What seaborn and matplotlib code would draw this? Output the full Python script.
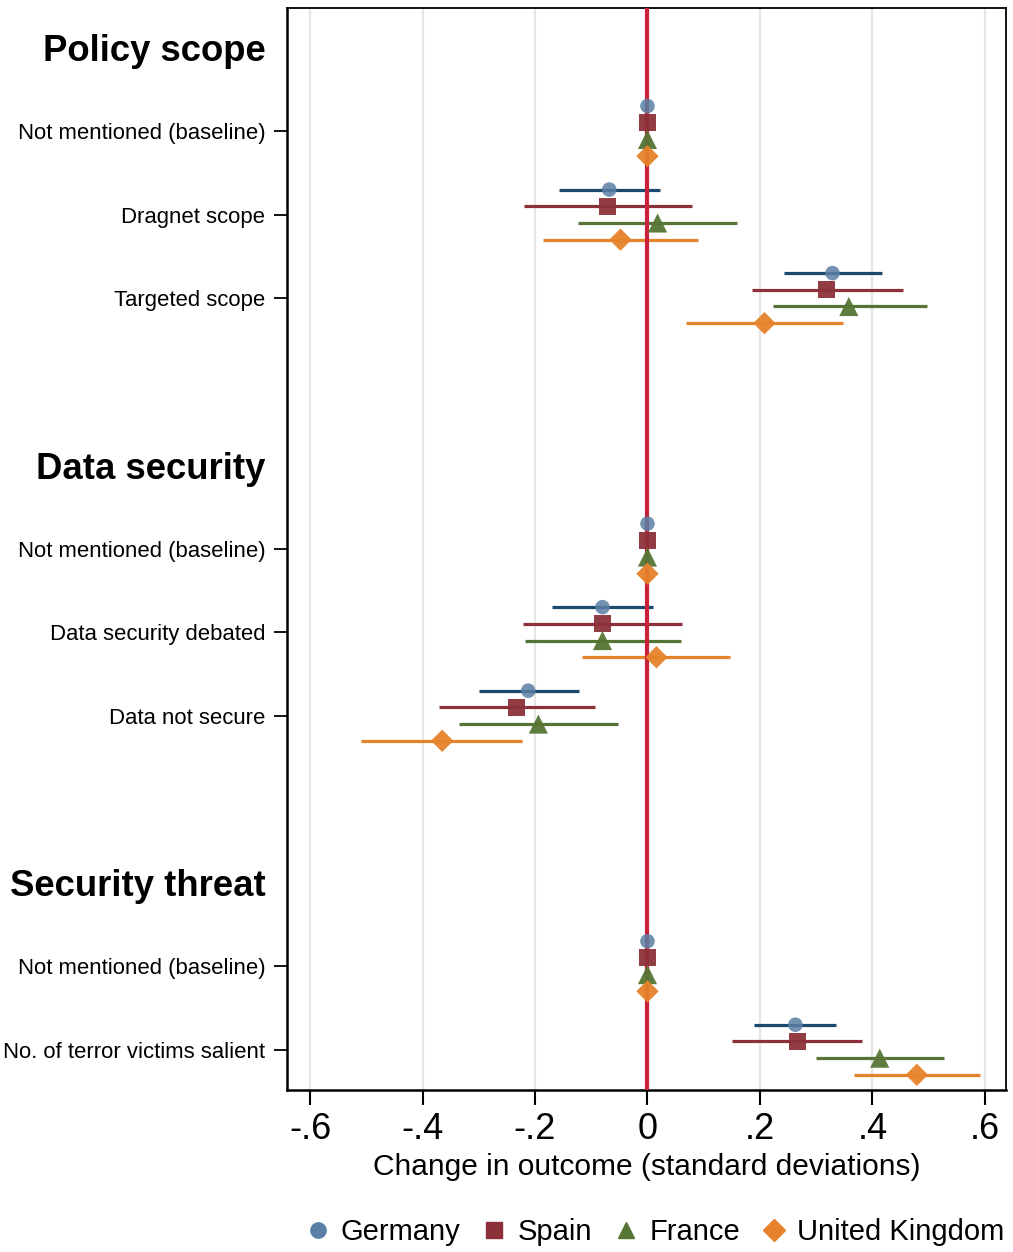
import numpy as np
import pandas as pd
import matplotlib
matplotlib.use("Agg")
import matplotlib.pyplot as plt
from matplotlib.lines import Line2D
import seaborn as sns

sections = ["Policy scope", "Data security", "Security threat"]
levels = [
    ["Not mentioned (baseline)", "Dragnet scope", "Targeted scope"],
    ["Not mentioned (baseline)", "Data security debated", "Data not secure"],
    ["Not mentioned (baseline)", "No. of terror victims salient"],
]
countries = ["Germany", "Spain", "France", "United Kingdom"]

# point estimates and 95% CIs, one entry per level row (top to bottom)
nan = np.nan
germany_est = [0, -0.068, 0.329, 0, -0.080, -0.212, 0, 0.263]
germany_lo = [nan, -0.158, 0.242, nan, -0.169, -0.299, nan, 0.190]
germany_hi = [nan, 0.023, 0.417, nan, 0.009, -0.121, nan, 0.336]
spain_est = [0, -0.071, 0.319, 0, -0.080, -0.233, 0, 0.266]
spain_lo = [nan, -0.219, 0.185, nan, -0.221, -0.370, nan, 0.151]
spain_hi = [nan, 0.080, 0.454, nan, 0.062, -0.093, nan, 0.381]
france_est = [0, 0.018, 0.358, 0, -0.080, -0.194, 0, 0.413]
france_lo = [nan, -0.123, 0.223, nan, -0.217, -0.336, nan, 0.299]
france_hi = [nan, 0.160, 0.497, nan, 0.059, -0.052, nan, 0.527]
uk_est = [0, -0.048, 0.208, 0, 0.016, -0.365, 0, 0.479]
uk_lo = [nan, -0.185, 0.069, nan, -0.116, -0.509, nan, 0.367]
uk_hi = [nan, 0.089, 0.347, nan, 0.146, -0.223, nan, 0.591]

xticks = [-0.6, -0.4, -0.2, 0, 0.2, 0.4, 0.6]
xtick_labels = ["-.6", "-.4", "-.2", "0", ".2", ".4", ".6"]

marker_colors = {"Germany": "#5a7fa4", "Spain": "#8c3139",
                 "France": "#567534", "United Kingdom": "#e5822a"}
line_colors = {"Germany": "#1a4a70", "Spain": "#8c3139",
               "France": "#567534", "United Kingdom": "#e5822a"}
markers = {"Germany": "o", "Spain": "s", "France": "^", "United Kingdom": "D"}
sizes = {"Germany": 110, "Spain": 150, "France": 190, "United Kingdom": 130}
offsets = {"Germany": -0.3, "Spain": -0.1, "France": 0.1, "United Kingdom": 0.3}

sns.set_style("white")
plt.rcParams["font.family"] = ["Liberation Sans", "DejaVu Sans"]
plt.rcParams["text.color"] = "black"
plt.rcParams["axes.labelcolor"] = "black"
plt.rcParams["xtick.color"] = "black"
plt.rcParams["ytick.color"] = "black"

# row layout: header, its levels, then a blank spacer row
ytick_pos, ytick_lab, header_pos, level_pos = [], [], [], []
i = 0
for sec, levs in zip(sections, levels):
    ytick_pos.append(i); ytick_lab.append(sec); header_pos.append(i)
    i += 1
    for lev in levs:
        ytick_pos.append(i); ytick_lab.append(lev); level_pos.append(i)
        i += 1
    i += 1

est = {"Germany": germany_est, "Spain": spain_est, "France": france_est, "United Kingdom": uk_est}
lo = {"Germany": germany_lo, "Spain": spain_lo, "France": france_lo, "United Kingdom": uk_lo}
hi = {"Germany": germany_hi, "Spain": spain_hi, "France": france_hi, "United Kingdom": uk_hi}

rows = []
for c in countries:
    for k, y in enumerate(level_pos):
        rows.append({"country": c, "y": y + offsets[c], "est": est[c][k],
                     "lo": lo[c][k], "hi": hi[c][k]})
df = pd.DataFrame(rows)

fig = plt.figure(figsize=(10.13, 12.52), dpi=100)
ax = fig.add_axes([0.2833, 0.1295, 0.7095, 0.8645])

for x in xticks:
    ax.axvline(x, color="#e6e6e6", lw=1.6, zorder=0)

for c in countries:
    d = df[(df.country == c) & df.lo.notna()]
    ax.hlines(d.y, d.lo, d.hi, color=line_colors[c], lw=2.3, zorder=2)

ax.axvline(0, color="#c8213a", lw=3, zorder=3)

for c in countries:
    d = df[df.country == c]
    sns.scatterplot(data=d, x="est", y="y", marker=markers[c], s=sizes[c],
                    color=marker_colors[c], edgecolor="none", linewidth=0,
                    alpha=0.95 if c != "Germany" else 0.85, zorder=4, ax=ax, legend=False)

ax.set_xlim(-0.641, 0.637)
ax.set_ylim(12.48, -0.48)
ax.set_xticks(xticks)
ax.set_xticklabels(xtick_labels, fontsize=26)
ax.set_yticks(ytick_pos)
ax.set_yticklabels(ytick_lab, fontsize=15.9)
ax.set_xlabel("Change in outcome (standard deviations)", fontsize=21.5, labelpad=4)
ax.set_ylabel("")
ax.tick_params(axis="y", length=9.5, width=1.3, pad=6, left=True, color="black")
ax.tick_params(axis="x", length=11, width=1.5, pad=5, bottom=True, color="black")

for tick, lab, pos in zip(ax.yaxis.get_major_ticks(), ax.get_yticklabels(), ytick_pos):
    if pos in header_pos:
        tick.tick1line.set_visible(False)
        lab.set_fontsize(26.3)
        lab.set_fontweight("bold")

for side in ["left", "bottom"]:
    ax.spines[side].set_linewidth(1.8)
for side in ["top", "right"]:
    ax.spines[side].set_linewidth(1.3)
for s in ax.spines.values():
    s.set_color("black")

handles = [Line2D([], [], linestyle="none", marker=markers[c], color=marker_colors[c],
                  markersize=11 if c != "France" else 12) for c in countries]
fig.legend(handles, countries, loc="center", bbox_to_anchor=(0.644, 0.016), ncol=4,
           frameon=False, fontsize=21, handletextpad=0.2, columnspacing=0.56,
           handlelength=1.2)

fig.savefig("out.png", dpi=100)
